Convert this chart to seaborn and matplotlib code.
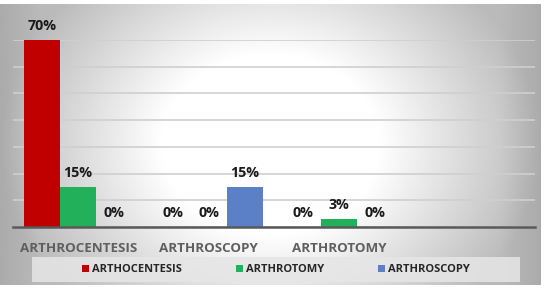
import numpy as np
import pandas as pd
import matplotlib
matplotlib.use("Agg")
import matplotlib.pyplot as plt
import seaborn as sns
from matplotlib.patches import Patch, Rectangle

categories = ["ARTHROCENTESIS", "ARTHROSCOPY", "ARTHROTOMY"]
series = ["ARTHOCENTESIS", "ARTHROTOMY", "ARTHROSCOPY"]
arthocentesis_vals = [70, 0, 0]
arthrotomy_vals = [15, 0, 3]
arthroscopy_vals = [0, 15, 0]
colors = ["#C00000", "#22B05A", "#5B80C8"]

rows = []
for s, vals in zip(series, [arthocentesis_vals, arthrotomy_vals, arthroscopy_vals]):
    for c, v in zip(categories, vals):
        rows.append({"cat": c, "series": s, "val": v})
df = pd.DataFrame(rows)

sns.set_style("white")
plt.rcParams["font.family"] = ["Open Sans", "DejaVu Sans"]

fig = plt.figure(figsize=(5.5, 2.94), dpi=100)
fig.patch.set_facecolor("white")

# background gradient panel
bg = fig.add_axes([0.0, 0.03, 0.982, 0.955], zorder=-10)
h, w = 200, 400
yy, xx = np.mgrid[0:h, 0:w]
xn = (xx / (w - 1) - 0.5) * 2
yn = (yy / (h - 1) - 0.5) * 2
d = np.sqrt((xn / 1.0) ** 2 + (yn / 1.6) ** 2)
val = 1 - 0.27 * np.clip((d - 0.4) / 0.6, 0, 1)
val = val - 0.06 * np.clip((np.abs(xn) - 0.85) / 0.15, 0, 1)
bg.imshow(val, cmap="gray", vmin=0, vmax=1, aspect="auto", interpolation="bilinear")
bg.set_axis_off()

ax = fig.add_axes([0.0236, 0.228, 0.949, 0.636])
ax.patch.set_alpha(0)
sns.barplot(data=df, x="cat", y="val", hue="series", order=categories,
            hue_order=series, palette=colors, width=0.83, ax=ax,
            legend=False, saturation=1, errorbar=None, linewidth=0)

ax.set_xlim(-0.5, 3.5)
ax.set_ylim(0, 70)
ax.set_yticks(np.arange(0, 71, 10))
ax.yaxis.grid(True, color="#cfcfcf", linewidth=1.2)
ax.set_axisbelow(True)
ax.tick_params(axis="y", left=False, labelleft=False)
ax.tick_params(axis="x", bottom=False, pad=7, labelsize=9.6, labelcolor="#5f5f5f")
for lbl in ax.get_xticklabels():
    lbl.set_fontweight("bold")
for sp in ["top", "right", "left"]:
    ax.spines[sp].set_visible(False)
ax.spines["bottom"].set_color("#595959")
ax.spines["bottom"].set_linewidth(1.8)
ax.set_xlabel("")
ax.set_ylabel("")

for cont in ax.containers:
    ax.bar_label(cont, fmt="{:.0f}%", padding=5, fontsize=10.3,
                 fontweight="bold", color="#1a1a1a")

# legend background box
fig.patches.append(Rectangle((32 / 550, 1 - 282 / 294), (520 - 32) / 550, 25 / 294,
                             transform=fig.transFigure, facecolor="#e6e6e6",
                             edgecolor="none", alpha=0.85, zorder=-5))

handles = [Patch(facecolor=c, edgecolor="none") for c in colors]
leg = fig.legend(handles, series, loc="center", bbox_to_anchor=(0.502, 0.082),
                 ncol=3, frameon=False, handlelength=0.6, handleheight=0.6,
                 handletextpad=0.3, columnspacing=4.85, borderpad=0.4,
                 prop={"weight": "bold", "size": 8.0})
for t in leg.get_texts():
    t.set_color("#262626")

fig.savefig("out.png", dpi=100)
